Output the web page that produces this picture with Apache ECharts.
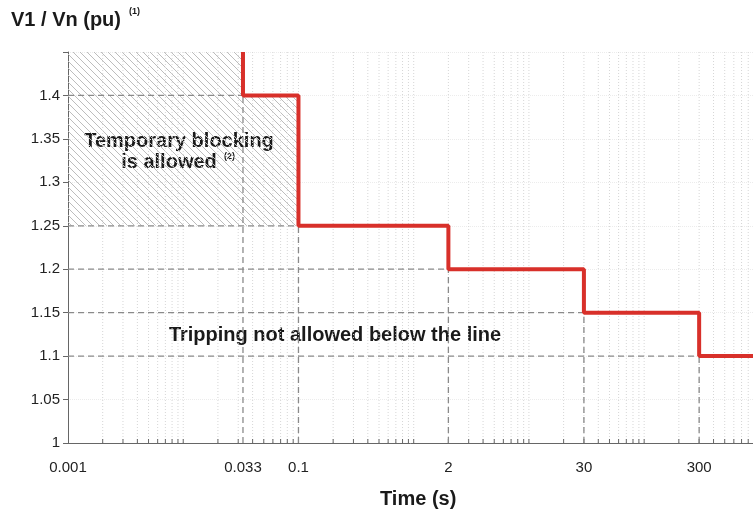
<!DOCTYPE html>
<html><head><meta charset="utf-8">
<script src="https://cdn.jsdelivr.net/npm/echarts@6/dist/echarts.min.js"></script>
<style>html,body{margin:0;padding:0;background:#fff}#c{width:753px;height:510px}</style>
</head><body><div id="c"></div>
<script>
// ---- data ----
const stepTimes = [0.033, 0.1, 2, 30, 300];
const stepLevels = [1.4, 1.25, 1.2, 1.15, 1.1];
const xTickLabels = [0.001, 0.033, 0.1, 2, 30, 300];
const yTickLabels = [1, 1.05, 1.1, 1.15, 1.2, 1.25, 1.3, 1.35, 1.4];
const xMin = 0.001, xMax = 880, yMin = 1, yMax = 1.45;

const FONT = '"Liberation Sans", Arial, sans-serif';

// red step path built from the arrays
const stepPath = [[stepTimes[0], yMax]];
stepTimes.forEach((t, i) => {
  stepPath.push([t, stepLevels[i]]);
  const next = i + 1 < stepTimes.length ? stepTimes[i + 1] : xMax;
  stepPath.push([next, stepLevels[i]]);
});

// hatched "temporary blocking" region
const hatchPoly = [
  [xMin, yMax], [stepTimes[0], yMax], [stepTimes[0], stepLevels[0]],
  [stepTimes[1], stepLevels[0]], [stepTimes[1], stepLevels[1]], [xMin, stepLevels[1]]
];

// log grid positions (1..9 per decade)
const gridVals = [];
for (let d = -3; d <= 2; d++) for (let k = 1; k <= 9; k++) {
  const v = +(k * Math.pow(10, d)).toPrecision(6);
  if (v > xMin && v < xMax) gridVals.push(v);
}

function makeHatch() {
  const s = 7;
  const c = document.createElement('canvas');
  c.width = s; c.height = s;
  const g = c.getContext('2d');
  g.strokeStyle = '#bdbdbd'; g.lineWidth = 1;
  g.beginPath();
  for (const o of [-s, 0, s]) { g.moveTo(o, 0); g.lineTo(o + s, s); }
  g.stroke();
  return c;
}
const hatchImg = makeHatch();

const chart = echarts.init(document.getElementById('c'), null, { renderer: 'canvas' });
chart.setOption({
  animation: false,
  backgroundColor: '#fff',
  grid: { left: 68, top: 52, right: 0, height: 391 },
  xAxis: {
    type: 'log', logBase: 10, min: xMin, max: xMax,
    axisLine: { lineStyle: { color: '#666', width: 1 } },
    axisTick: { show: false }, axisLabel: { show: false },
    splitLine: { show: false }, minorSplitLine: { show: false }
  },
  yAxis: {
    type: 'value', min: yMin, max: yMax, interval: 0.05,
    axisLine: { show: true, lineStyle: { color: '#666', width: 1 } },
    axisTick: { show: true, length: 5, lineStyle: { color: '#666' } },
    axisLabel: {
      fontSize: 15, fontFamily: FONT, color: '#222', margin: 8,
      formatter: v => {
        const r = parseFloat(v.toFixed(2));
        return yTickLabels.indexOf(r) >= 0 ? String(r) : '';
      }
    },
    splitLine: { show: true, lineStyle: { color: '#ececec', type: 'dotted' } }
  },
  series: [
    {
      type: 'custom', z: 1, clip: false, silent: true,
      data: [[xMin, yMin]],
      renderItem: (params, api) => ({
        type: 'polygon',
        shape: { points: hatchPoly.map(p => api.coord(p)) },
        style: { fill: { image: hatchImg, repeat: 'repeat' }, stroke: null }
      })
    },
    {
      type: 'custom', z: 2, clip: false, silent: true,
      data: gridVals.map(v => [v, yMin]),
      renderItem: (params, api) => {
        const x = api.value(0);
        const p0 = api.coord([x, yMin]);
        const p1 = api.coord([x, yMax]);
        return {
          type: 'group', children: [
            { type: 'line', shape: { x1: p0[0], y1: p0[1], x2: p1[0], y2: p1[1] },
              style: { stroke: '#d6d6d6', lineWidth: 1, lineDash: [1, 2] } },
            { type: 'line', shape: { x1: p0[0], y1: p0[1], x2: p0[0], y2: p0[1] - 4 },
              style: { stroke: '#666', lineWidth: 1 } }
          ]
        };
      }
    },
    {
      type: 'custom', z: 3, clip: false, silent: true,
      data: stepTimes.map((t, i) => [t, stepLevels[i]]),
      renderItem: (params, api) => {
        const t = api.value(0), L = api.value(1);
        const a = api.coord([xMin, L]), b = api.coord([t, L]), c = api.coord([t, yMin]);
        const st = { stroke: '#8a8a8a', lineWidth: 1.3, lineDash: [6, 4] };
        return {
          type: 'group', children: [
            { type: 'line', shape: { x1: a[0], y1: a[1], x2: b[0], y2: b[1] }, style: st },
            { type: 'line', shape: { x1: c[0], y1: c[1], x2: b[0], y2: b[1] }, style: st }
          ]
        };
      }
    },
    {
      type: 'custom', z: 4, clip: false, silent: true,
      data: xTickLabels.map(v => [v, yMin]),
      renderItem: (params, api) => {
        const p = api.coord([api.value(0), yMin]);
        return {
          type: 'text', x: p[0], y: p[1] + 25,
          style: { text: String(xTickLabels[params.dataIndex]), align: 'center', verticalAlign: 'middle',
                   font: '15px ' + FONT, fill: '#222' }
        };
      }
    },
    {
      type: 'line', z: 5, data: stepPath, showSymbol: false, silent: true,
      lineStyle: { color: '#d8302a', width: 4 }, clip: false
    }
  ],
  graphic: [
    { type: 'text', x: 11, y: 20, style: { text: 'V1 / Vn (pu)', font: 'bold 20px ' + FONT, fill: '#1a1a1a', verticalAlign: 'middle' } },
    { type: 'text', x: 129, y: 12, style: { text: '(1)', font: 'bold 9px ' + FONT, fill: '#1a1a1a', verticalAlign: 'middle' } },
    { type: 'text', x: 179, y: 141, style: { text: 'Temporary blocking', font: 'bold 20px ' + FONT, fill: '#1a1a1a', align: 'center', verticalAlign: 'middle' } },
    { type: 'text', x: 169, y: 162.5, style: { text: 'is allowed', font: 'bold 20px ' + FONT, fill: '#1a1a1a', align: 'center', verticalAlign: 'middle' } },
    { type: 'text', x: 224, y: 157, style: { text: '(2)', font: 'bold 9px ' + FONT, fill: '#1a1a1a', verticalAlign: 'middle' } },
    { type: 'text', x: 335, y: 335.5, style: { text: 'Tripping not allowed below the line', font: 'bold 20px ' + FONT, fill: '#1a1a1a', align: 'center', verticalAlign: 'middle' } },
    { type: 'text', x: 380, y: 499, style: { text: 'Time (s)', font: 'bold 20px ' + FONT, fill: '#1a1a1a', verticalAlign: 'middle' } }
  ]
});
</script>
</body></html>
